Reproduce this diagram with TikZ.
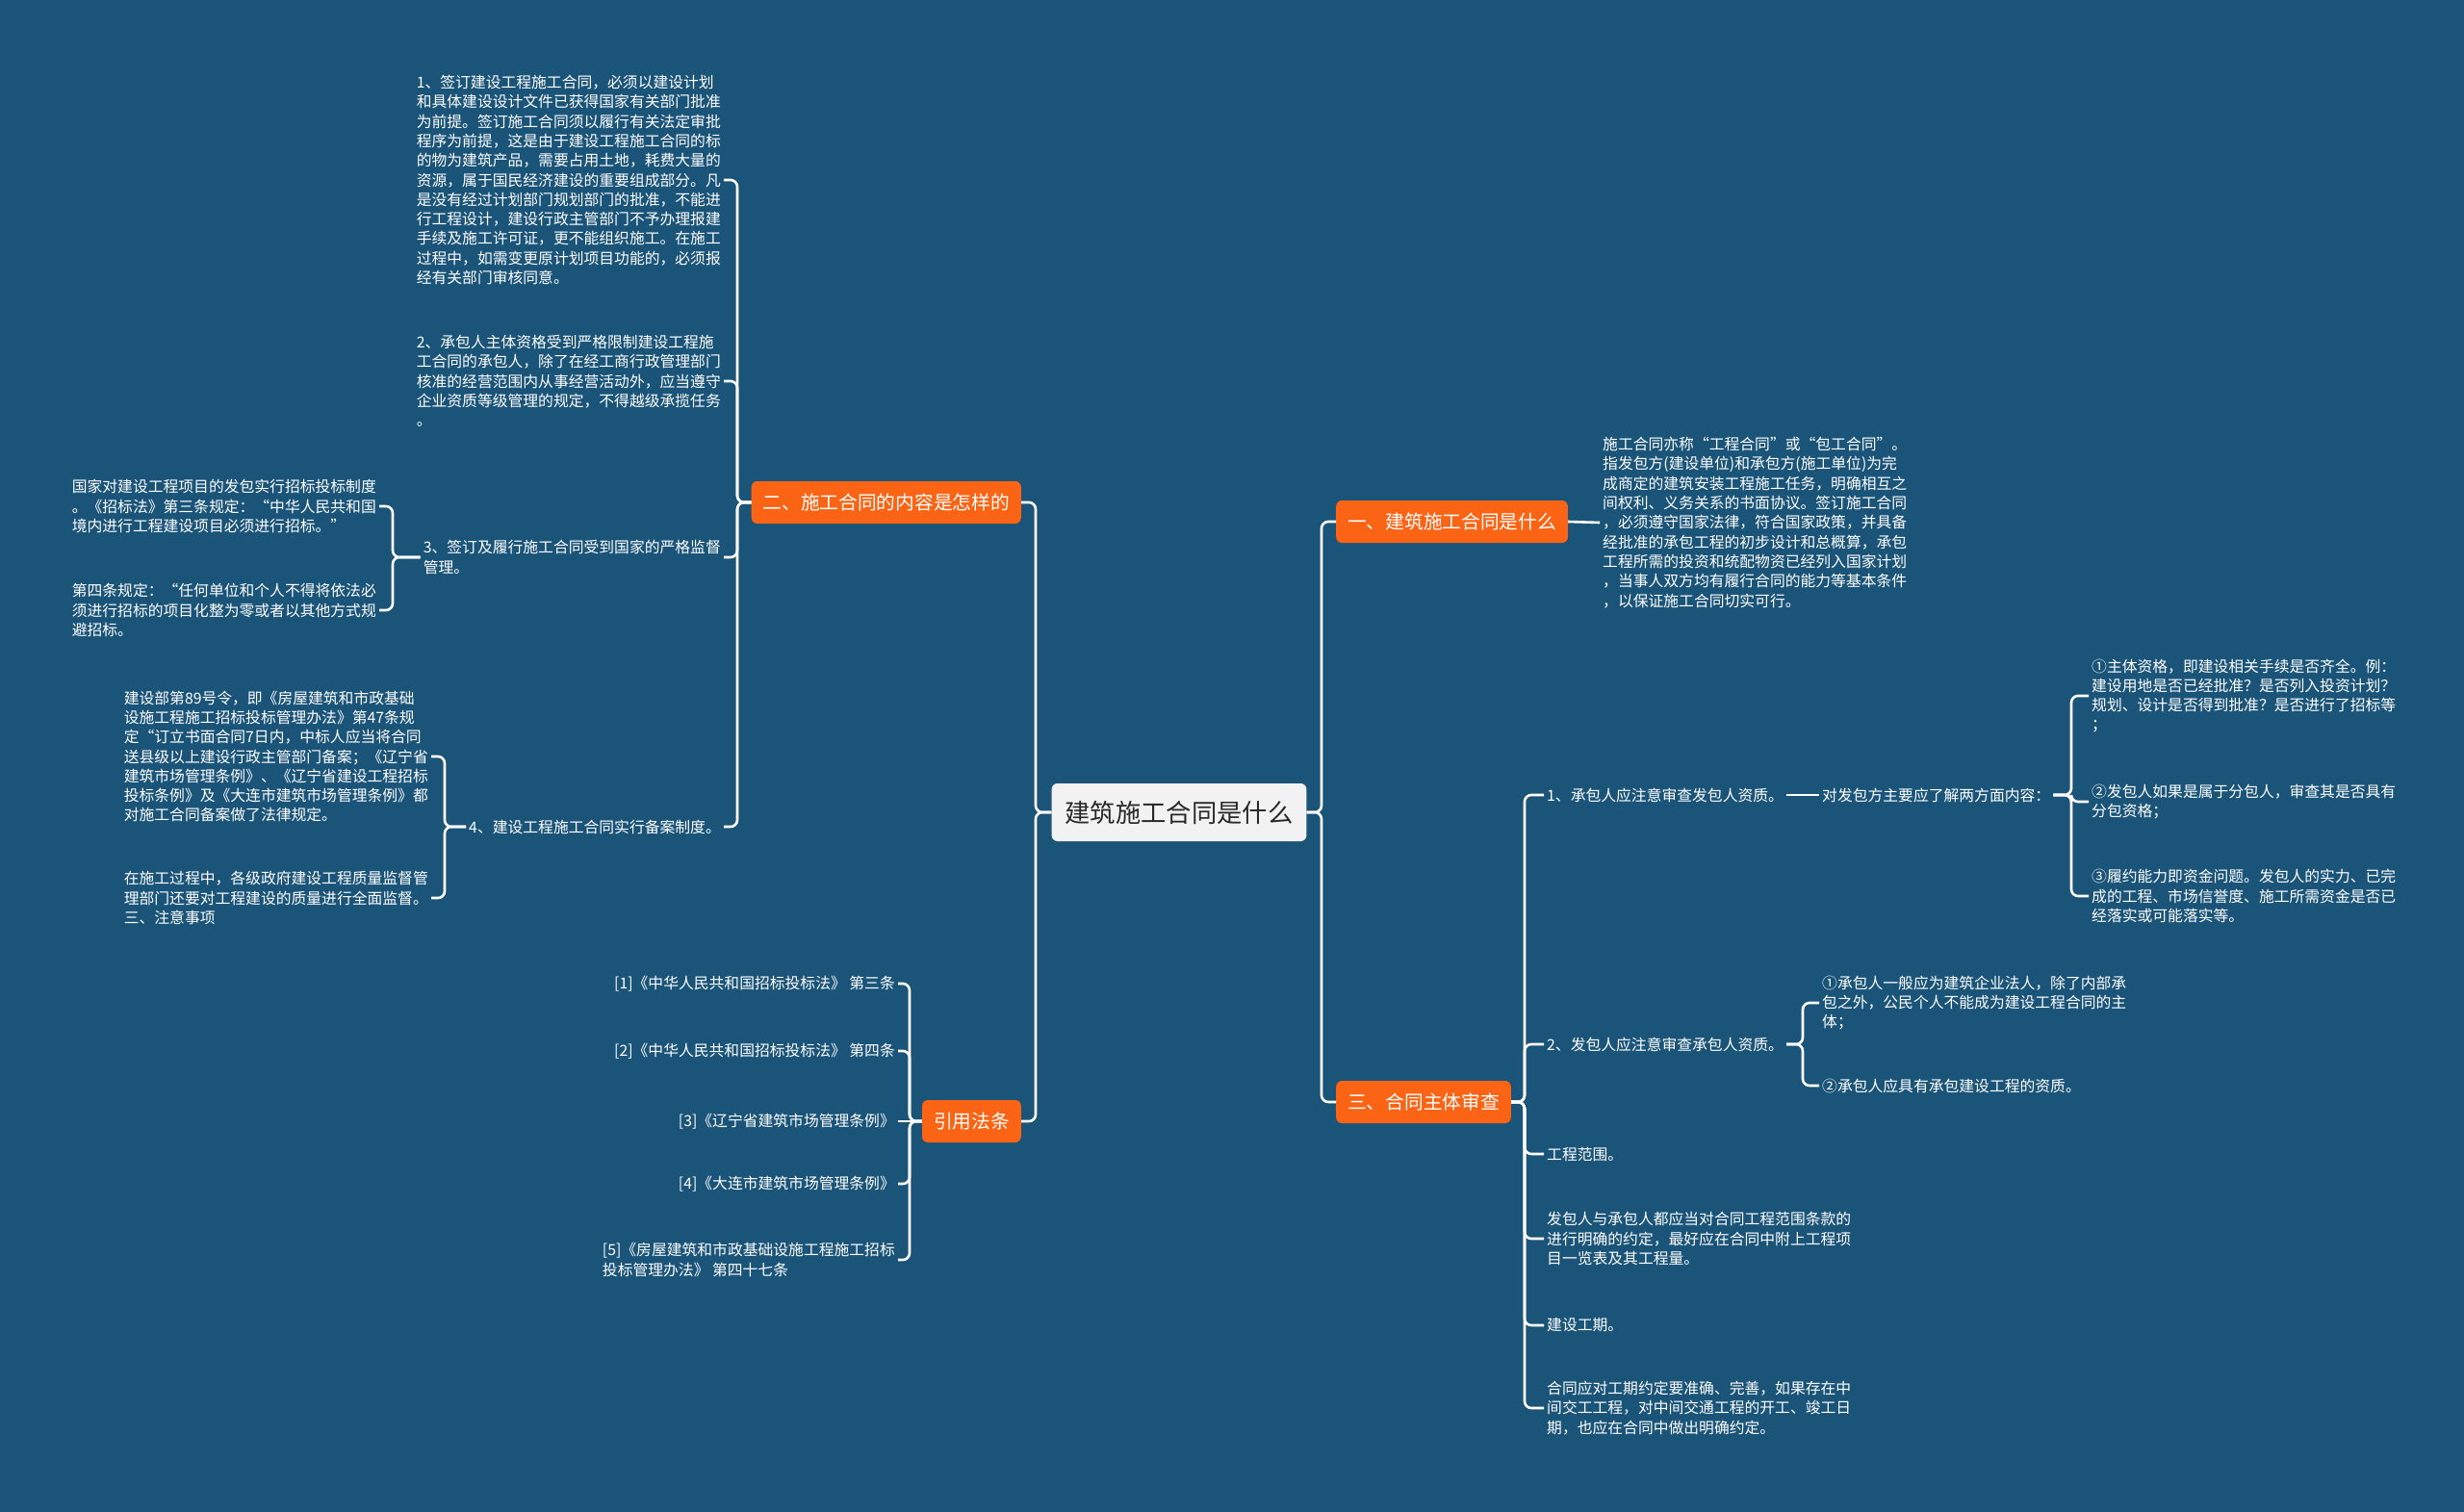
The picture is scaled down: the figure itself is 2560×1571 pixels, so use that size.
\documentclass[tikz,border=0pt]{standalone}
\usepackage{fontspec}
\setmainfont{Noto Sans CJK SC}
\definecolor{bg}{RGB}{27,84,121}
\definecolor{org}{RGB}{250,100,20}
\definecolor{cbox}{RGB}{242,242,242}
\definecolor{ctext}{RGB}{40,40,40}
\tikzset{
  rootbox/.style={fill=cbox, text=ctext, rounded corners=6pt, font=\fontsize{26.3}{30}\selectfont, minimum height=60pt, inner xsep=14pt, inner ysep=0pt},
  topic/.style={fill=org, text=white, rounded corners=6pt, font=\fontsize{19.7}{23}\selectfont, minimum height=44pt, inner xsep=12pt, inner ysep=0pt},
  leaf/.style={text=white, font=\fontsize{15.8}{20.3}\selectfont, align=left, inner sep=3pt},
  link/.style={draw=white, line width=2.6pt, rounded corners=7pt},
}
\newcommand\connR[3]{\draw[link] (#1.east) -- (#2 |- #1.east) -- (#2 |- #3.west) -- (#3.west);}
\newcommand\connL[3]{\draw[link] (#1.west) -- (#2 |- #1.west) -- (#2 |- #3.east) -- (#3.east);}
\begin{document}
\begin{tikzpicture}[x=1pt,y=-1pt]
\useasboundingbox[fill=bg] (0,0) rectangle (2560,1571);
% vertical line positions
\coordinate (vR) at (1373,0);
\coordinate (vL) at (1076,0);
\coordinate (vT3) at (1584,0);
\coordinate (vS1) at (2152,0);
\coordinate (vS2) at (1873,0);
\coordinate (vT2) at (766,0);
\coordinate (vL3) at (408,0);
\coordinate (vL4) at (462,0);
\coordinate (vT4) at (945,0);

\node[rootbox] (root) at (1225,844) {建筑施工合同是什么};

\node[topic, anchor=west] (t1) at (1388,542) {一、建筑施工合同是什么};
\node[topic, anchor=west] (t3) at (1388,1145) {三、合同主体审查};
\node[topic, anchor=east] (t2) at (1061,522) {二、施工合同的内容是怎样的};
\node[topic, anchor=east] (t4) at (1061,1165) {引用法条};

% right: topic one
\node[leaf, anchor=west] (p1) at (1662,543) {施工合同亦称“工程合同”或“包工合同”。\\指发包方(建设单位)和承包方(施工单位)为完\\成商定的建筑安装工程施工任务，明确相互之\\间权利、义务关系的书面协议。签订施工合同\\，必须遵守国家法律，符合国家政策，并具备\\经批准的承包工程的初步设计和总概算，承包\\工程所需的投资和统配物资已经列入国家计划\\，当事人双方均有履行合同的能力等基本条件\\，以保证施工合同切实可行。};

% right: topic three
\node[leaf, anchor=west] (s1) at (1604,826) {1、承包人应注意审查发包人资质。};
\node[leaf, anchor=west] (s1a) at (1890,826) {对发包方主要应了解两方面内容：};
\node[leaf, anchor=west] (s1a1) at (2170,723) {①主体资格，即建设相关手续是否齐全。例：\\建设用地是否已经批准？是否列入投资计划？\\规划、设计是否得到批准？是否进行了招标等\\；};
\node[leaf, anchor=west] (s1a2) at (2170,833) {②发包人如果是属于分包人，审查其是否具有\\分包资格；};
\node[leaf, anchor=west] (s1a3) at (2170,931) {③履约能力即资金问题。发包人的实力、已完\\成的工程、市场信誉度、施工所需资金是否已\\经落实或可能落实等。};
\node[leaf, anchor=west] (s2) at (1604,1085) {2、发包人应注意审查承包人资质。};
\node[leaf, anchor=west] (s2a) at (1890,1042) {①承包人一般应为建筑企业法人，除了内部承\\包之外，公民个人不能成为建设工程合同的主\\体；};
\node[leaf, anchor=west] (s2b) at (1890,1128) {②承包人应具有承包建设工程的资质。};
\node[leaf, anchor=west] (s3) at (1604,1199) {工程范围。};
\node[leaf, anchor=west] (s4) at (1604,1287) {发包人与承包人都应当对合同工程范围条款的\\进行明确的约定，最好应在合同中附上工程项\\目一览表及其工程量。};
\node[leaf, anchor=west] (s5) at (1604,1377) {建设工期。};
\node[leaf, anchor=west] (s6) at (1604,1463) {合同应对工期约定要准确、完善，如果存在中\\间交工工程，对中间交通工程的开工、竣工日\\期，也应在合同中做出明确约定。};

% left: topic two
\node[leaf, anchor=east] (l1) at (752,187) {1、签订建设工程施工合同，必须以建设计划\\和具体建设设计文件已获得国家有关部门批准\\为前提。签订施工合同须以履行有关法定审批\\程序为前提，这是由于建设工程施工合同的标\\的物为建筑产品，需要占用土地，耗费大量的\\资源，属于国民经济建设的重要组成部分。凡\\是没有经过计划部门规划部门的批准，不能进\\行工程设计，建设行政主管部门不予办理报建\\手续及施工许可证，更不能组织施工。在施工\\过程中，如需变更原计划项目功能的，必须报\\经有关部门审核同意。};
\node[leaf, anchor=east] (l2) at (752,396) {2、承包人主体资格受到严格限制建设工程施\\工合同的承包人，除了在经工商行政管理部门\\核准的经营范围内从事经营活动外，应当遵守\\企业资质等级管理的规定，不得越级承揽任务\\。};
\node[leaf, anchor=east] (l3) at (752,579) {3、签订及履行施工合同受到国家的严格监督\\管理。};
\node[leaf, anchor=east] (l4) at (752,859) {4、建设工程施工合同实行备案制度。};
\node[leaf, anchor=east] (l3a) at (394,526) {国家对建设工程项目的发包实行招标投标制度\\。《招标法》第三条规定：“中华人民共和国\\境内进行工程建设项目必须进行招标。”};
\node[leaf, anchor=east] (l3b) at (394,634) {第四条规定：“任何单位和个人不得将依法必\\须进行招标的项目化整为零或者以其他方式规\\避招标。};
\node[leaf, anchor=east] (l4a) at (448,786) {建设部第89号令，即《房屋建筑和市政基础\\设施工程施工招标投标管理办法》第47条规\\定“订立书面合同7日内，中标人应当将合同\\送县级以上建设行政主管部门备案；《辽宁省\\建筑市场管理条例》、《辽宁省建设工程招标\\投标条例》及《大连市建筑市场管理条例》都\\对施工合同备案做了法律规定。};
\node[leaf, anchor=east] (l4b) at (448,933) {在施工过程中，各级政府建设工程质量监督管\\理部门还要对工程建设的质量进行全面监督。\\三、注意事项};

% left: citations
\node[leaf, anchor=east] (r1) at (933,1022) {[1]《中华人民共和国招标投标法》 第三条};
\node[leaf, anchor=east] (r2) at (933,1092) {[2]《中华人民共和国招标投标法》 第四条};
\node[leaf, anchor=east] (r3) at (933,1165) {[3]《辽宁省建筑市场管理条例》};
\node[leaf, anchor=east] (r4) at (933,1230) {[4]《大连市建筑市场管理条例》};
\node[leaf, anchor=east] (r5) at (933,1309) {[5]《房屋建筑和市政基础设施工程施工招标\\投标管理办法》 第四十七条};

% connectors
\connR{root}{vR}{t1}
\connR{root}{vR}{t3}
\connL{root}{vL}{t2}
\connL{root}{vL}{t4}
\draw[link] (t1.east) -- (p1.west);
\connR{t3}{vT3}{s1}
\connR{t3}{vT3}{s2}
\connR{t3}{vT3}{s3}
\connR{t3}{vT3}{s4}
\connR{t3}{vT3}{s5}
\connR{t3}{vT3}{s6}
\draw[link] (s1.east) -- (s1a.west);
\connR{s1a}{vS1}{s1a1}
\connR{s1a}{vS1}{s1a2}
\connR{s1a}{vS1}{s1a3}
\connR{s2}{vS2}{s2a}
\connR{s2}{vS2}{s2b}
\connL{t2}{vT2}{l1}
\connL{t2}{vT2}{l2}
\connL{t2}{vT2}{l3}
\connL{t2}{vT2}{l4}
\connL{l3}{vL3}{l3a}
\connL{l3}{vL3}{l3b}
\connL{l4}{vL4}{l4a}
\connL{l4}{vL4}{l4b}
\connL{t4}{vT4}{r1}
\connL{t4}{vT4}{r2}
\draw[link] (t4.west) -- (r3.east);
\connL{t4}{vT4}{r4}
\connL{t4}{vT4}{r5}
\end{tikzpicture}
\end{document}
